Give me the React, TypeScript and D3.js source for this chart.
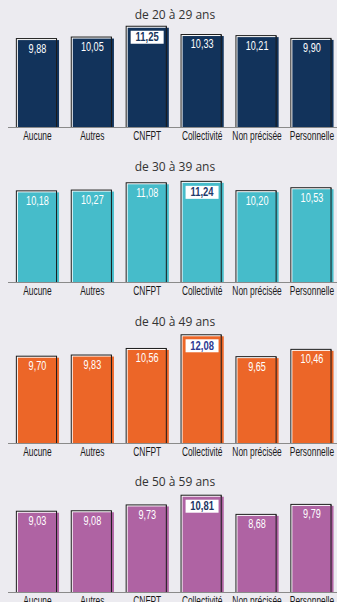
import React from "react";
import * as d3 from "d3";

const categories = ["Aucune", "Autres", "CNFPT", "Collectivité", "Non précisée", "Personnelle"];
const ageGroups = ["de 20 à 29 ans", "de 30 à 39 ans", "de 40 à 49 ans", "de 50 à 59 ans"];
const values20 = [9.88, 10.05, 11.25, 10.33, 10.21, 9.9];
const values30 = [10.18, 10.27, 11.08, 11.24, 10.2, 10.53];
const values40 = [9.7, 9.83, 10.56, 12.08, 9.65, 10.46];
const values50 = [9.03, 9.08, 9.73, 10.81, 8.68, 9.79];
const seriesValues = [values20, values30, values40, values50];
const colors = ["#12335B", "#46BCCA", "#EC6628", "#AF63A3"];
const highlightColors = ["#17365D", "#1F3A6B", "#2E3A92", "#1D3563"];

const W = 337;
const H = 602;
// baseline and title positions for each panel
const baselines = [127, 282, 443, 592];
const titleYs = [16, 168, 323, 483];

const fmt = (v: number) => v.toFixed(2).replace(".", ",");

const FONT = "'Liberation Sans', Arial, sans-serif";
const SQUEEZE = 0.7;

// condensed text: a regular sans face squeezed horizontally
function Narrow(props: { x: number; y: number; size: number; fill: string; bold?: boolean; children: React.ReactNode }) {
  return (
    <text transform={`translate(${props.x},${props.y}) scale(${SQUEEZE},1)`} textAnchor="middle" dominantBaseline="middle"
      fontFamily={FONT} fontSize={props.size} fontWeight={props.bold ? "bold" : "normal"} fill={props.fill}>
      {props.children}
    </text>
  );
}

export default function App() {
  const x = d3.scaleBand<string>().domain(categories).range([9, 338.4]).paddingInner(0.25).paddingOuter(0.125);
  const h = d3.scaleLinear().domain([0, 10]).range([0, 90]);
  const bw = x.bandwidth();

  return (
    <div style={{ position: "absolute", left: 0, top: 0 }}>
      <svg width={W} height={H} style={{ display: "block", background: "#ECEBF0" }}>
        {seriesValues.map((vals, pi) => {
          const base = baselines[pi];
          const maxV = d3.max(vals) as number;
          return (
            <g key={pi}>
              <text x={175} y={titleYs[pi]} textAnchor="middle" dominantBaseline="middle"
                fontFamily="'Open Sans', sans-serif" fontSize={12} fill="#333">
                {ageGroups[pi]}
              </text>
              {vals.map((v, i) => {
                const bx = x(categories[i]) as number;
                const bh = h(v);
                const top = base - bh;
                const isMax = v === maxV;
                return (
                  <g key={i}>
                    <rect x={bx} y={top} width={bw} height={bh} fill="#1a1a1a" />
                    <rect x={bx + 1} y={top + 1} width={bw - 2} height={bh - 1} fill="#ffffff" />
                    <rect x={bx + 2} y={top + 2} width={bw} height={bh - 2} fill={colors[pi]} />
                    <line x1={bx + bw - 0.5} x2={bx + bw - 0.5} y1={top + 1} y2={base} stroke="#1a1a1a" strokeWidth={1} />
                    {isMax ? (
                      <g>
                        <rect x={bx + 5} y={top + 5} width={33} height={13} fill="#ffffff" />
                        <Narrow x={bx + 21.5} y={top + 12} size={13.5} bold fill={highlightColors[pi]}>
                          {fmt(v)}
                        </Narrow>
                      </g>
                    ) : (
                      <Narrow x={bx + bw / 2 + 1} y={top + 11} size={13} fill="#ffffff">
                        {fmt(v)}
                      </Narrow>
                    )}
                    <Narrow x={bx + bw / 2 + 1} y={base + 9.5} size={12} fill="#1a1a1a">
                      {categories[i]}
                    </Narrow>
                  </g>
                );
              })}
              <line x1={8} x2={W} y1={base + 0.5} y2={base + 0.5} stroke="#8a8a8a" strokeWidth={1.2} />
            </g>
          );
        })}
      </svg>
    </div>
  );
}
